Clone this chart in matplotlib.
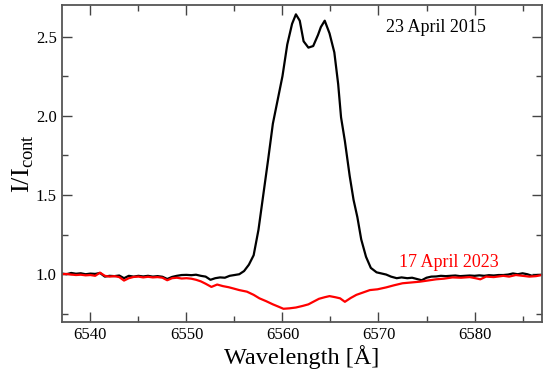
import matplotlib
matplotlib.use("Agg")
import matplotlib.pyplot as plt
from matplotlib.ticker import MultipleLocator

plt.rcParams['font.family'] = ['Liberation Serif', 'DejaVu Serif']
plt.rcParams['mathtext.fontset'] = 'custom'
plt.rcParams['mathtext.rm'] = 'Liberation Serif'

# 23 April 2015 spectrum (black)
wl_2015 = [6537.0, 6537.5, 6538.0, 6538.5, 6539.0, 6539.5, 6540.0, 6540.5, 6541.0, 6541.5,
           6542.0, 6542.5, 6543.0, 6543.5, 6544.0, 6544.5, 6545.0, 6545.5, 6546.0, 6546.5,
           6547.0, 6547.5, 6548.0, 6548.5, 6549.0, 6549.5, 6550.0, 6550.5, 6551.0, 6551.5,
           6552.0, 6552.5, 6553.0, 6553.5, 6554.0, 6554.5, 6555.0, 6555.5, 6556.0, 6556.5,
           6557.0, 6557.5, 6558.0, 6558.5, 6559.0, 6559.5, 6560.0, 6560.5, 6561.0, 6561.4,
           6561.8, 6562.2, 6562.7, 6563.2, 6563.7, 6564.0, 6564.4, 6564.9, 6565.4, 6565.8,
           6566.1, 6566.5, 6567.0, 6567.4, 6567.8, 6568.2, 6568.7, 6569.2, 6569.8, 6570.3,
           6570.8, 6571.3, 6571.9, 6572.4, 6573.0, 6573.5, 6574.0, 6574.5, 6575.0, 6575.5,
           6576.0, 6576.5, 6577.0, 6577.5, 6578.0, 6578.5, 6579.0, 6579.5, 6580.0, 6580.5,
           6581.0, 6581.5, 6582.0, 6582.5, 6583.0, 6583.5, 6584.0, 6584.5, 6585.0, 6585.5,
           6586.0, 6586.5, 6587.0]
flux_2015 = [1.005, 1.0, 1.008, 1.003, 1.006, 1.0, 1.004, 1.002, 1.008, 0.985,
             0.99, 0.988, 0.992, 0.975, 0.99, 0.985, 0.99, 0.986, 0.99, 0.985,
             0.988, 0.984, 0.97, 0.983, 0.99, 0.995, 0.996, 0.994, 0.997, 0.99,
             0.985, 0.965, 0.975, 0.98, 0.978, 0.99, 0.995, 1.0, 1.02, 1.06,
             1.12, 1.28, 1.50, 1.72, 1.95, 2.10, 2.25, 2.45, 2.58, 2.64,
             2.60, 2.47, 2.43, 2.44, 2.51, 2.56, 2.60, 2.52, 2.40, 2.20,
             1.99, 1.84, 1.62, 1.47, 1.36, 1.22, 1.11, 1.04, 1.012, 1.005,
             0.998, 0.985, 0.975, 0.98, 0.975, 0.978, 0.97, 0.962, 0.978, 0.985,
             0.986, 0.99, 0.988, 0.99, 0.992, 0.988, 0.99, 0.992, 0.99, 0.993,
             0.99, 0.994, 0.992, 0.995, 0.995, 0.998, 1.005, 1.0, 1.006, 1.0,
             0.99, 0.995, 0.996]

# 17 April 2023 spectrum (red)
wl_2023 = [6537.0, 6537.5, 6538.0, 6538.5, 6539.0, 6539.5, 6540.0, 6540.5, 6541.0, 6541.5,
           6542.0, 6542.5, 6543.0, 6543.5, 6544.0, 6544.5, 6545.0, 6545.5, 6546.0, 6546.5,
           6547.0, 6547.5, 6548.0, 6548.5, 6549.0, 6549.5, 6550.0, 6550.5, 6551.0, 6551.5,
           6552.0, 6552.6, 6553.2, 6553.8, 6554.4, 6554.9, 6555.5, 6556.3, 6557.0, 6557.6,
           6558.3, 6559.0, 6559.6, 6560.1, 6560.75, 6561.4, 6562.1, 6562.7, 6563.2, 6563.8,
           6564.4, 6564.9, 6565.5, 6566.0, 6566.5, 6567.1, 6567.7, 6568.4, 6569.1, 6569.9,
           6570.8, 6571.6, 6572.5, 6573.4, 6574.3, 6575.1, 6576.0, 6576.8, 6577.7, 6578.6,
           6579.5, 6580.1, 6580.6, 6581.2, 6582.0, 6583.0, 6583.6, 6584.3, 6585.0, 6585.7,
           6586.4, 6587.0]
flux_2023 = [1.0, 1.002, 0.998, 0.995, 0.997, 0.993, 0.995, 0.99, 1.01, 0.99,
             0.985, 0.988, 0.982, 0.96, 0.975, 0.983, 0.985, 0.98, 0.984, 0.98,
             0.982, 0.978, 0.962, 0.975, 0.978, 0.973, 0.975, 0.972, 0.965, 0.955,
             0.94, 0.92, 0.935, 0.925, 0.918, 0.91, 0.9, 0.89, 0.87, 0.848,
             0.83, 0.81, 0.795, 0.782, 0.785, 0.79, 0.80, 0.81, 0.826, 0.845,
             0.855, 0.862, 0.855, 0.848, 0.826, 0.85, 0.87, 0.885, 0.90, 0.905,
             0.917, 0.93, 0.943, 0.948, 0.953, 0.96, 0.968, 0.972, 0.98, 0.978,
             0.982, 0.975, 0.968, 0.985, 0.982, 0.99, 0.985, 0.995, 0.99, 0.985,
             0.988, 0.995]

fig = plt.figure(figsize=(5.5, 3.72), dpi=100)
ax = fig.add_axes([0.112, 0.135, 0.873, 0.852])

ax.plot(wl_2015, flux_2015, color='black', lw=1.6)
ax.plot(wl_2023, flux_2023, color='#ff0000', lw=1.6)

ax.set_xlim(6537, 6587)
ax.set_ylim(0.7, 2.7)
ax.xaxis.set_major_locator(MultipleLocator(10))
ax.xaxis.set_minor_locator(MultipleLocator(5))
ax.yaxis.set_major_locator(MultipleLocator(0.5))
ax.yaxis.set_minor_locator(MultipleLocator(0.25))
ax.tick_params(which='both', direction='in', top=True, right=True, labelsize=12,
               color='#444444', width=1.0)
ax.tick_params(which='major', length=7)
ax.tick_params(which='minor', length=4)
for s in ax.spines.values():
    s.set_color('#555555')
    s.set_linewidth(1.3)

ax.set_xlabel('Wavelength [Å]', fontsize=17.5, labelpad=2)
ax.set_ylabel(r'I/I$_{\mathrm{cont}}$', fontsize=19, labelpad=0)

ax.text(6576.0, 2.56, '23 April 2015', fontsize=13, color='black',
        ha='center', va='center')
ax.text(6577.3, 1.071, '17 April 2023', fontsize=13, color='#ff0000',
        ha='center', va='center')

fig.savefig('out.png', dpi=100)
